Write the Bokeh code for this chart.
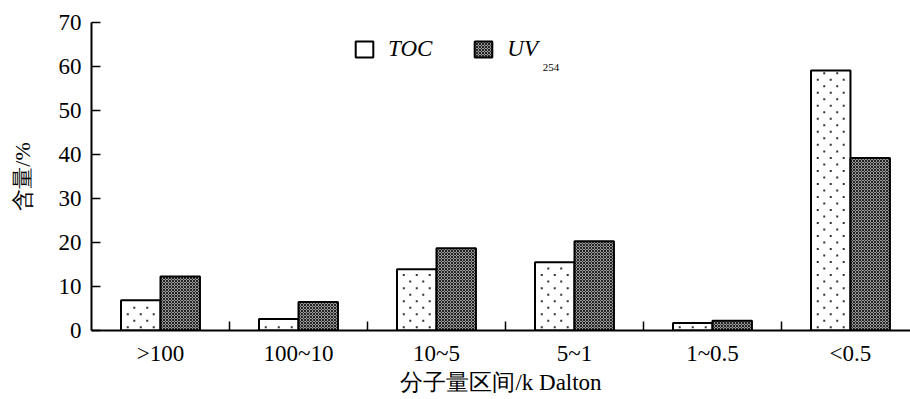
from bokeh.plotting import figure
from bokeh.models import ColumnDataSource, FixedTicker, Legend, LegendItem, Label, Range1d
from bokeh.transform import dodge
from bokeh.embed import file_html
from bokeh.resources import INLINE

categories = [">100", "100~10", "10~5", "5~1", "1~0.5", "<0.5"]
toc = [6.9, 2.6, 13.9, 15.5, 1.7, 59.1]
uv254 = [12.3, 6.5, 18.7, 20.3, 2.2, 39.2]
y_ticks = [0, 10, 20, 30, 40, 50, 60, 70]

xs = [i + 0.5 for i in range(len(categories))]
source = ColumnDataSource(dict(x=xs, toc=toc, uv=uv254, cat=categories))

SERIF = "Liberation Serif"
bw = 0.286

# sparse dot texture for the TOC bars (decoration inside each bar, staggered rows)
row_step = 1.48
col_step = 0.094
dot_x, dot_y = [], []
for xc, top in zip(xs, toc):
    cx = xc - bw / 2
    k = 0
    yy = 0.75
    while yy < top - 0.6:
        offs = (-col_step, 0.0, col_step) if k % 2 == 0 else (-col_step / 2, col_step / 2)
        for o in offs:
            dot_x.append(cx + o)
            dot_y.append(yy)
        yy += row_step
        k += 1
dots = ColumnDataSource(dict(x=dot_x, y=dot_y))

p = figure(width=910, height=399, output_backend="svg", toolbar_location=None,
           x_range=Range1d(0, 5.935), y_range=Range1d(0, 70),
           min_border_left=91, min_border_top=22, min_border_bottom=69, min_border_right=0)
p.outline_line_color = None
p.xgrid.grid_line_color = None
p.ygrid.grid_line_color = None
p.background_fill_color = "white"

r1 = p.vbar(x=dodge("x", -bw / 2), top="toc", width=bw, source=source,
            fill_color="white", line_color="black", line_width=2)
rd = p.scatter(x="x", y="y", source=dots, marker="square", size=2,
               fill_color="#333333", line_color=None)
r2 = p.vbar(x=dodge("x", bw / 2), top="uv", width=bw, source=source,
            fill_color="#9a9a9a", line_color="black", line_width=2,
            hatch_pattern="diagonal_cross", hatch_scale=3, hatch_color="#222222", hatch_weight=1)

# x axis: labels at category centres, inner ticks at category boundaries
xa = p.xaxis[0]
xa.ticker = FixedTicker(ticks=xs, minor_ticks=[1, 2, 3, 4, 5])
xa.major_label_overrides = {x: c for x, c in zip(xs, categories)}
xa.major_tick_in = 0
xa.major_tick_out = 0
xa.minor_tick_in = 9
xa.minor_tick_out = 0
xa.minor_tick_line_width = 1.5
xa.axis_line_width = 2
xa.major_label_standoff = 10
xa.major_label_text_font = SERIF
xa.major_label_text_font_size = "23px"
xa.major_label_text_color = "black"
xa.axis_label = "分子量区间/k Dalton"
xa.axis_label_text_font = SERIF
xa.axis_label_text_font_size = "23px"
xa.axis_label_text_font_style = "normal"
xa.axis_label_text_color = "black"
xa.axis_label_standoff = 1

ya = p.yaxis[0]
ya.ticker = FixedTicker(ticks=y_ticks, minor_ticks=[])
ya.major_tick_in = 9
ya.major_tick_out = 0
ya.major_tick_line_width = 1.5
ya.axis_line_width = 2
ya.major_label_standoff = 10
ya.major_label_text_font = SERIF
ya.major_label_text_font_size = "23px"
ya.major_label_text_color = "black"
ya.axis_label = "含量/%"
ya.axis_label_text_font = SERIF
ya.axis_label_text_font_size = "22px"
ya.axis_label_text_font_style = "normal"
ya.axis_label_text_color = "black"
ya.axis_label_standoff = 21

legend = Legend(items=[LegendItem(label="TOC", renderers=[r1]),
                       LegendItem(label="UV", renderers=[r2])],
                orientation="horizontal", location=(262, 268),
                glyph_width=22, glyph_height=20, label_standoff=13, spacing=40,
                padding=0, margin=0, border_line_color=None, background_fill_alpha=0,
                label_text_font=SERIF, label_text_font_style="italic",
                label_text_font_size="23px", label_text_color="black")
p.add_layout(legend, "center")

sub = Label(x=3.27, y=59.8, text="254", text_font=SERIF, text_font_size="11px",
            text_baseline="alphabetic", text_color="black")
p.add_layout(sub)

open("out.html", "w").write(file_html(p, INLINE))
